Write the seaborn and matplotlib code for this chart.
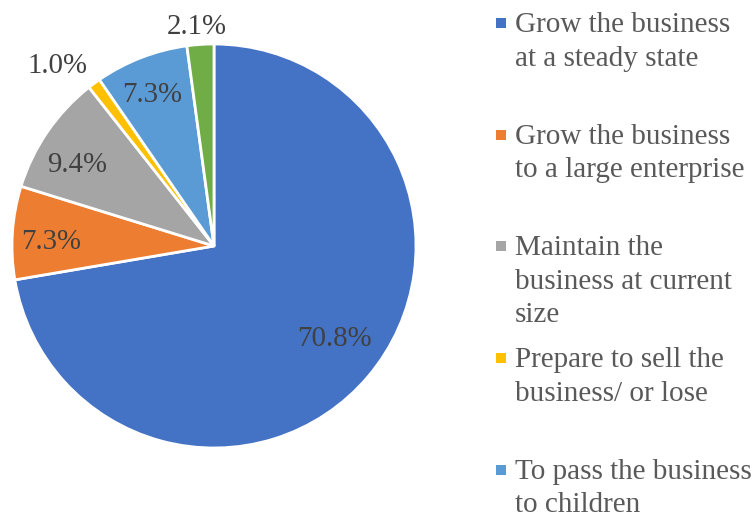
import matplotlib
matplotlib.use("Agg")
import matplotlib.pyplot as plt
import seaborn as sns
import numpy as np

# Survey answers: future plans for the business
categories = [
    "Grow the business at a steady state",
    "Grow the business to a large enterprise",
    "Maintain the business at current size",
    "Prepare to sell the business/ or lose",
    "To pass the business to children",
    "Other",
]
legend_lines = [
    ["Grow the business", "at a steady state"],
    ["Grow the business", "to a large enterprise"],
    ["Maintain the", "business at current", "size"],
    ["Prepare to sell the", "business/ or lose"],
    ["To pass the business", "to children"],
]
values = [70.8, 7.3, 9.4, 1.0, 7.3, 2.1]
colors = ["#4472C4", "#ED7D31", "#A5A5A5", "#FFC000", "#5B9BD5", "#70AD47"]

sns.set_theme(style="white")
plt.rcParams["font.family"] = ["Liberation Serif", "DejaVu Serif"]
palette = sns.color_palette(colors)

W, H, DPI = 756, 518, 100
fig = plt.figure(figsize=(W / DPI, H / DPI), dpi=DPI)
fig.patch.set_facecolor("white")

# pie axes: centre (214, 246) px, radius 202 px
cx, cy, r = 214, 246, 202
ax = fig.add_axes([(cx - r) / W, (H - cy - r) / H, 2 * r / W, 2 * r / H])
wedges, _ = ax.pie(
    values,
    colors=palette,
    startangle=90,
    counterclock=False,
    wedgeprops=dict(edgecolor="white", linewidth=2.0),
)
ax.set_xlim(-1, 1)
ax.set_ylim(-1, 1)
ax.set_aspect("equal")
ax.axis("off")

# value labels: radial distance (fraction of radius) and a small angular nudge
label_dist = [0.746, 0.807, 0.793, 1.19, 0.817, 1.10]
label_nudge = [3.0, 1.6, 3.2, 4.3, 0.9, 0.7]
for w, v, d, nudge in zip(wedges, values, label_dist, label_nudge):
    ang = np.deg2rad((w.theta1 + w.theta2) / 2 + nudge)
    ax.annotate(f"{v:.1f}%", xy=(d * np.cos(ang), d * np.sin(ang)),
                xytext=(0, -6.8), textcoords="offset points",
                ha="center", va="baseline", fontsize=20.8, color="#404040",
                annotation_clip=False)

# legend drawn as a column of square markers and wrapped text
text_x = 515
marker_x = 501
first_base = 32
entry_step = 111.7
line_step = 33.5
for i, lines in enumerate(legend_lines):
    base = first_base + i * entry_step
    fig.patches.append(plt.Rectangle(
        ((marker_x - 5) / W, 1 - (base - 4) / H), 10 / W, 10 / H,
        transform=fig.transFigure, facecolor=colors[i], edgecolor="none"))
    for j, line in enumerate(lines):
        fig.text(text_x / W, 1 - (base + j * line_step) / H, line,
                 ha="left", va="baseline", fontsize=21, color="#595959")

fig.savefig("out.png", dpi=DPI, facecolor="white")
